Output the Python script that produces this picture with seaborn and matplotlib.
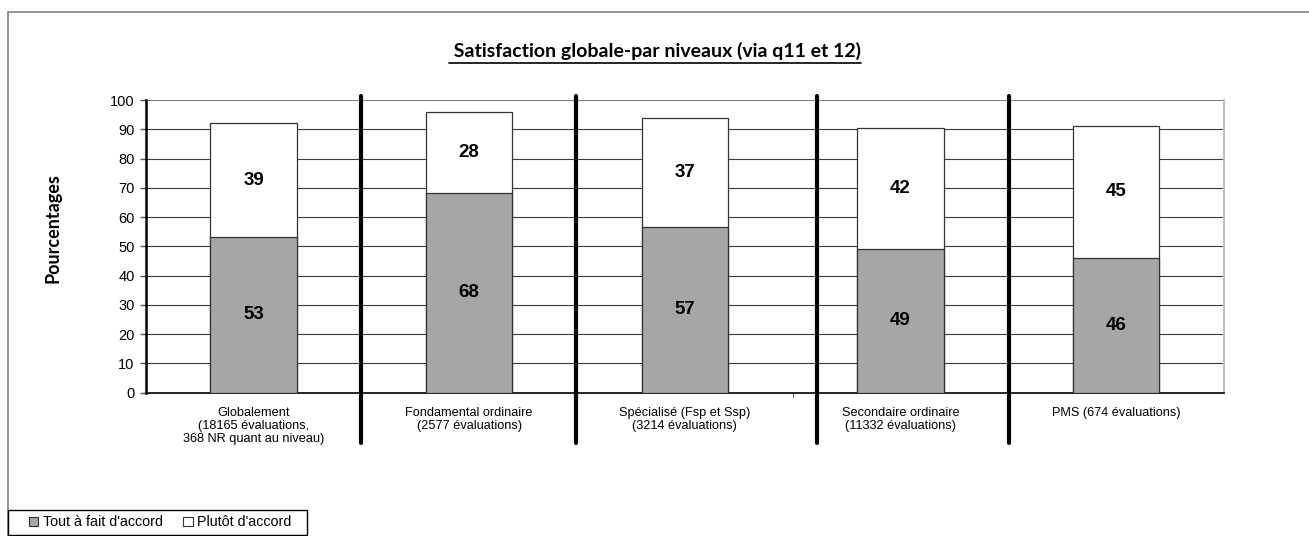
import matplotlib
matplotlib.use("Agg")
import matplotlib.pyplot as plt
import seaborn as sns
import pandas as pd
from matplotlib.patches import Patch, Rectangle
from matplotlib.lines import Line2D
from matplotlib.ticker import FixedLocator

# ---- data ----
categories = [
    "Globalement\n(18165 évaluations,\n368 NR quant au niveau)",
    "Fondamental ordinaire\n(2577 évaluations)",
    "Spécialisé (Fsp et Ssp)\n(3214 évaluations)",
    "Secondaire ordinaire\n(11332 évaluations)",
    "PMS (674 évaluations)",
]
tout_a_fait = [53.2, 68.3, 56.6, 49.0, 46.1]
plutot = [38.8, 27.7, 37.3, 41.6, 45.1]
series_names = ["Tout à fait d'accord", "Plutôt d'accord"]
title = " Satisfaction globale-par niveaux (via q11 et 12)"
ylabel = "Pourcentages"
yticks = [0, 10, 20, 30, 40, 50, 60, 70, 80, 90, 100]
separators = [0.497, 1.494, 2.612, 3.505]

totals = [a + b for a, b in zip(tout_a_fait, plutot)]
df = pd.DataFrame({"cat": categories, "tout": tout_a_fait, "plutot": plutot, "total": totals})

sns.set_theme(style="white")
plt.rcParams["font.family"] = ["Liberation Sans", "DejaVu Sans"]
plt.rcParams["text.color"] = "black"
plt.rcParams["xtick.color"] = "black"
plt.rcParams["ytick.color"] = "black"

W, H = 1309, 536
fig = plt.figure(figsize=(W / 100, H / 100), dpi=100)
ax = fig.add_axes([145.7 / W, 1 - 392.7 / H, (1224 - 145.7) / W, (392.7 - 100) / H])

GRAY = "#a6a6a6"
EDGE = "#333333"
sns.barplot(data=df, x="cat", y="total", color="white", width=0.4, saturation=1,
            edgecolor=EDGE, linewidth=0.9, ax=ax, zorder=3)
sns.barplot(data=df, x="cat", y="tout", color=GRAY, width=0.4, saturation=1,
            edgecolor=EDGE, linewidth=0.9, ax=ax, zorder=4)

for i, (a, b) in enumerate(zip(tout_a_fait, plutot)):
    ax.text(i, a / 2, f"{round(a)}", ha="center", va="center", fontsize=13.5,
            fontweight="bold", zorder=6, color="black")
    ax.text(i, a + b / 2, f"{round(b)}", ha="center", va="center", fontsize=13.5,
            fontweight="bold", zorder=6, color="black")

ax.set_ylim(0, 100)
ax.set_xlim(-0.5, len(categories) - 0.5)
ax.set_yticks(yticks)
ax.set_yticklabels([str(t) for t in yticks], fontsize=10.5)
ax.set_xticklabels(categories, fontsize=9.2, linespacing=1.15)
ax.tick_params(axis="x", length=0, pad=10)
ax.tick_params(axis="y", length=4, width=1, direction="out", left=True, pad=4, color="#555555")
ax.xaxis.set_minor_locator(FixedLocator([0.5, 1.5, 2.5, 3.5]))
ax.tick_params(axis="x", which="minor", length=3, width=0.8, bottom=True, color="#555555")
ax.set_xlabel("")
ax.set_ylabel("")

for t in yticks[1:]:
    ax.axhline(t, color="#808080" if t == 100 else "#3a3a3a", lw=0.8, zorder=1)

ax.spines["top"].set_visible(False)
ax.spines["right"].set_color("#c0c0c0")
ax.spines["right"].set_linewidth(1.5)
ax.spines["left"].set_color("black")
ax.spines["left"].set_linewidth(1.8)
ax.spines["bottom"].set_color("black")
ax.spines["bottom"].set_linewidth(1.2)
ax.spines["left"].set_zorder(7)

for xs in separators:
    ax.add_line(Line2D([xs, xs], [-17.2, 101.2], color="black", lw=3, clip_on=False, zorder=8))

# title with underline
ttl = fig.text(655 / W, 1 - 57 / H, title, ha="center", va="baseline", fontsize=14,
               fontweight="bold", family=["Lato", "DejaVu Sans"])
fig.text(52.7 / W, 1 - 228 / H, ylabel, ha="center", va="center", rotation=90,
         fontsize=13, fontweight="bold", family=["Lato", "DejaVu Sans"])

fig.canvas.draw()
bb = ttl.get_window_extent()
fig.add_artist(Line2D([bb.x0 / W, bb.x1 / W], [(H - 63.3) / H] * 2, color="black", lw=1.2,
                      transform=fig.transFigure))

# outer chart-area frame
fig.add_artist(Rectangle((8 / W, -0.2), 1.5, 0.2 + (H - 11.7) / H, fill=False,
                         edgecolor="#808080", lw=1.2, transform=fig.transFigure, zorder=0))

# legend box
fig.add_artist(Rectangle((8 / W, (H - 535) / H), 299 / W, 25 / H, facecolor="white",
                         edgecolor="black", lw=1.0, transform=fig.transFigure, zorder=2))
handles = [Patch(facecolor=GRAY, edgecolor=EDGE, lw=0.8),
           Patch(facecolor="white", edgecolor=EDGE, lw=0.8)]
leg = fig.legend(handles, series_names, loc="center left", bbox_to_anchor=(29 / W, (H - 522.5) / H),
                 ncol=2, fontsize=10.3, frameon=False,
                 handlelength=0.65, handleheight=0.65, handletextpad=0.3, columnspacing=1.45,
                 borderpad=0, borderaxespad=0)
leg.set_zorder(5)

fig.savefig("out.png", dpi=100, facecolor="white")
